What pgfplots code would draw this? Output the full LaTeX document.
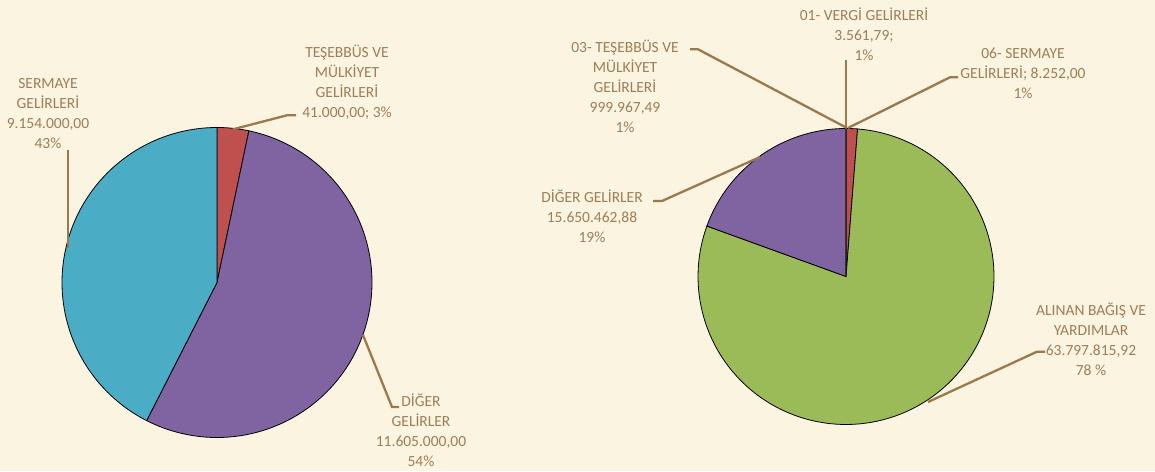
\documentclass[border=0pt]{standalone}
\usepackage{fontspec}
\setmainfont{Carlito}
\usepackage{pgfplots}
\pgfplotsset{compat=1.18}
\definecolor{bgc}{HTML}{FAF4E0}
\definecolor{txt}{HTML}{9E7E58}
\definecolor{lead}{HTML}{9A7A4C}
\definecolor{cred}{HTML}{C0504D}
\definecolor{cpur}{HTML}{8064A2}
\definecolor{caqua}{HTML}{4BACC6}
\definecolor{cgreen}{HTML}{9BBB59}
\definecolor{cblue}{HTML}{4F81BD}
\tikzset{lbl/.style={align=center,font=\fontsize{15.5}{20}\selectfont,text=txt,inner sep=0pt},
  ld/.style={draw=lead,line width=2.3pt}}
% left pie: shares (percent, as drawn)
\def\LA{3.3}\def\LB{54.2}\def\LC{42.5}
\pgfmathsetmacro{\LT}{\LA+\LB+\LC}
\pgfmathsetmacro{\La}{360*(\LA/\LT)}
\pgfmathsetmacro{\Lb}{\La+360*(\LB/\LT)}
% right pie: values in millions
\def\RA{0.00356179}\def\RB{0.99996749}\def\RC{63.79781592}\def\RD{15.65046288}\def\RE{0.008252}
\pgfmathsetmacro{\RT}{\RA+\RB+\RC+\RD+\RE}
\pgfmathsetmacro{\Ra}{360*(\RA/\RT)}
\pgfmathsetmacro{\Rb}{\Ra+360*(\RB/\RT)}
\pgfmathsetmacro{\Rc}{\Rb+360*(\RC/\RT)}
\pgfmathsetmacro{\Rd}{\Rc+360*(\RD/\RT)}
\begin{document}
\begin{tikzpicture}
\fill[bgc] (0,0) rectangle (1155pt,471pt);
\begin{axis}[at={(0,0)},anchor=south west,width=1155pt,height=471pt,scale only axis,
  xmin=0,xmax=1155,ymin=0,ymax=471,hide axis,clip=false,
  every axis plot/.append style={draw=black,line width=0.8pt,samples=120,variable=\t}]
% left pie
\addplot[fill=cred,domain=0:\La] ({217+155*sin(\t)},{188.5+155*cos(\t)}) -- (axis cs:217,188.5) -- cycle;
\addplot[fill=cpur,domain=\La:\Lb] ({217+155*sin(\t)},{188.5+155*cos(\t)}) -- (axis cs:217,188.5) -- cycle;
\addplot[fill=caqua,domain=\Lb:360] ({217+155*sin(\t)},{188.5+155*cos(\t)}) -- (axis cs:217,188.5) -- cycle;
% right pie
\addplot[fill=cblue,domain=0:\Ra,samples=2] ({846+148*sin(\t)},{194.5+148*cos(\t)}) -- (axis cs:846,194.5) -- cycle;
\addplot[fill=cred,domain=\Ra:\Rb,samples=10] ({846+148*sin(\t)},{194.5+148*cos(\t)}) -- (axis cs:846,194.5) -- cycle;
\addplot[fill=cgreen,domain=\Rb:\Rc] ({846+148*sin(\t)},{194.5+148*cos(\t)}) -- (axis cs:846,194.5) -- cycle;
\addplot[fill=cpur,domain=\Rc:\Rd] ({846+148*sin(\t)},{194.5+148*cos(\t)}) -- (axis cs:846,194.5) -- cycle;
\addplot[fill=caqua,domain=\Rd:360,samples=2] ({846+148*sin(\t)},{194.5+148*cos(\t)}) -- (axis cs:846,194.5) -- cycle;
% leader lines
\draw[ld] (axis cs:233,341.7) -- (axis cs:287,355.7) -- (axis cs:296,355.7);
\draw[ld] (axis cs:68,321) -- (axis cs:68,223);
\draw[ld] (axis cs:363,136) -- (axis cs:392,64) -- (axis cs:399,64);
\draw[ld] (axis cs:846,411) -- (axis cs:846,343);
\draw[ld] (axis cs:690,421.7) -- (axis cs:698,421.7) -- (axis cs:847,343);
\draw[ld] (axis cs:848,343) -- (axis cs:950,393.7) -- (axis cs:958,393.7);
\draw[ld] (axis cs:653,270) -- (axis cs:662,270) -- (axis cs:760,314);
\draw[ld] (axis cs:1045,119.3) -- (axis cs:1037,119.3) -- (axis cs:928,69);
% labels
\node[lbl] at (axis cs:347,389) {TEŞEBBÜS VE\\MÜLKİYET\\GELİRLERİ\\41.000,00; 3\%};
\node[lbl] at (axis cs:48,357.5) {SERMAYE\\GELİRLERİ\\9.154.000,00\\43\%};
\node[lbl] at (axis cs:421,41) {DİĞER\\GELİRLER\\11.605.000,00\\54\%};
\node[lbl] at (axis cs:864,436.7) {01- VERGİ GELİRLERİ\\3.561,79;\\1\%};
\node[lbl] at (axis cs:625,385) {03- TEŞEBBÜS VE\\MÜLKİYET\\GELİRLERİ\\999.967,49\\1\%};
\node[lbl] at (axis cs:1023,398) {06- SERMAYE\\GELİRLERİ; 8.252,00\\1\%};
\node[lbl] at (axis cs:592,254.7) {DİĞER GELİRLER\\15.650.462,88\\19\%};
\node[lbl] at (axis cs:1091,132) {ALINAN BAĞIŞ VE\\YARDIMLAR\\63.797.815,92\\78 \%};
\end{axis}
\end{tikzpicture}
\end{document}
